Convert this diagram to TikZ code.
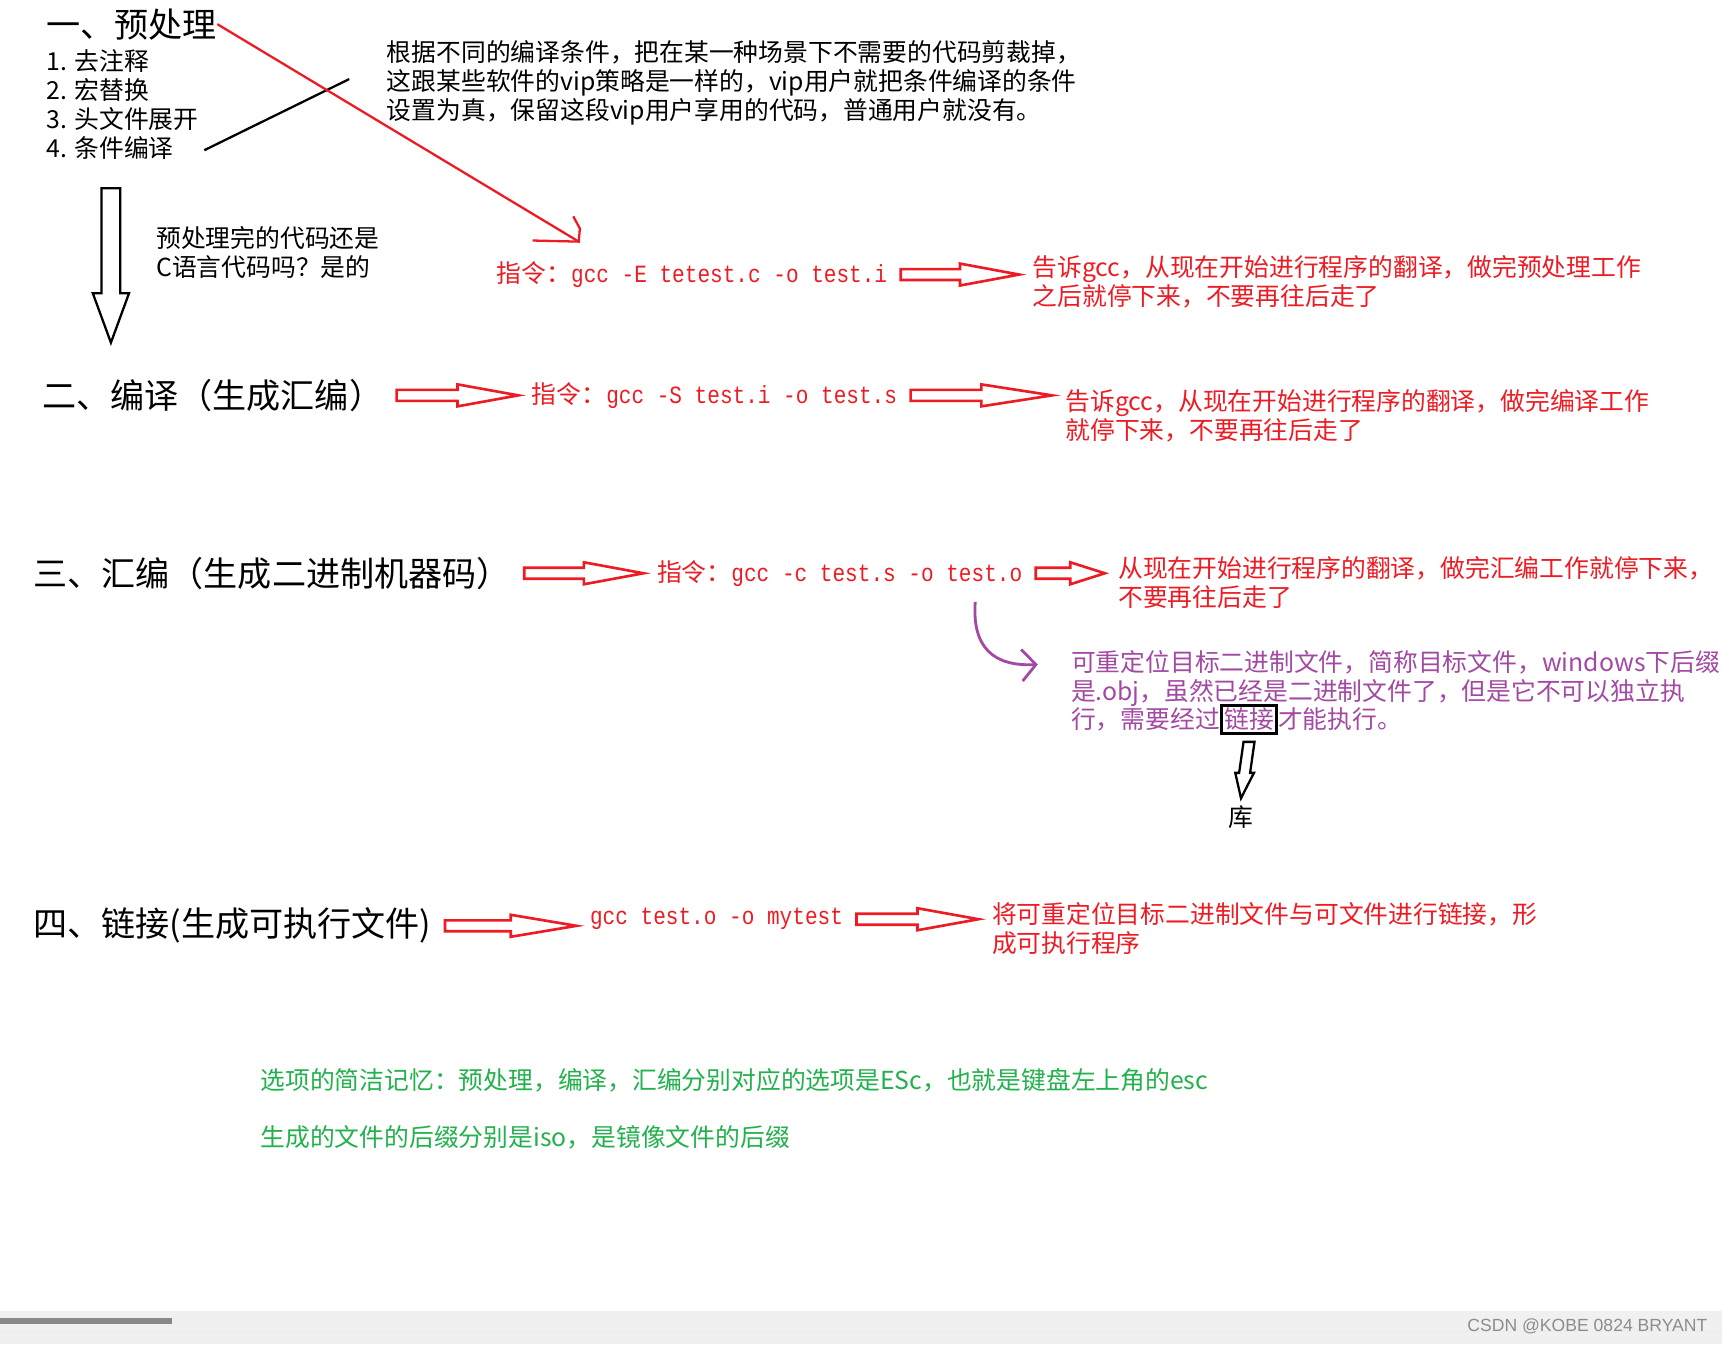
\documentclass[tikz,border=0pt]{standalone}
\usepackage{fontspec}
\setmainfont{Noto Sans CJK SC}
\newfontfamily\cmdfont[FakeStretch=0.85]{Liberation Mono}
\newfontfamily\markfont{Liberation Sans}
\usetikzlibrary{arrows.meta, positioning, calc}
\definecolor{paintred}{RGB}{237,28,36}
\definecolor{paintpurple}{RGB}{163,73,164}
\definecolor{paintgreen}{RGB}{34,177,76}
\definecolor{barcolor}{RGB}{240,240,240}
\definecolor{thumbcolor}{RGB}{136,136,136}
\definecolor{markcolor}{RGB}{140,140,140}

\begin{document}
\begin{tikzpicture}[
    x=0.02196cm, y=-0.02196cm,
    title/.style={font=\fontsize{19.4pt}{23pt}\selectfont, inner sep=0pt, anchor=west},
    body/.style={font=\fontsize{14.1pt}{16.5pt}\selectfont, inner sep=0pt, align=left},
    cmd/.style={body, text=paintred, anchor=west},
    note/.style={body, text=paintred, anchor=north west},
    redline/.style={draw=paintred, line width=1.3pt},
    fatright/.style={draw=paintred, line width=1.5pt, to path={
        ($(\tikztostart)+(12,5)$) -- ($(\tikztostart)!0.5!(\tikztotarget)+(0,5)$)
        -- ($(\tikztostart)!0.5!(\tikztotarget)+(0,10)$) -- ($(\tikztotarget)+(-12,0)$)
        -- ($(\tikztostart)!0.5!(\tikztotarget)+(0,-10)$) -- ($(\tikztostart)!0.5!(\tikztotarget)+(0,-5)$)
        -- ($(\tikztostart)+(12,-5)$) -- cycle}},
    fatdown/.style n args={3}{draw=black, line width=1.3pt, to path={
        ($(\tikztostart)+(-#1,0)$) -- ($(\tikztostart)!#3!(\tikztotarget)+(-#1,0)$)
        -- ($(\tikztostart)!#3!(\tikztotarget)+(-#2,0)$) -- (\tikztotarget)
        -- ($(\tikztostart)!#3!(\tikztotarget)+(#2,0)$) -- ($(\tikztostart)!#3!(\tikztotarget)+(#1,0)$)
        -- ($(\tikztostart)+(#1,0)$) -- cycle}}
]
    \fill[white] (0,0) rectangle (1568,1224);
    \useasboundingbox (0,0) rectangle (1568,1224);

    % Preprocessing
    \node[title] (t1) at (42,22) {一、预处理};
    \node[body, anchor=north west] (items) at (42,45) {1. 去注释\\2. 宏替换\\3. 头文件展开\\4. 条件编译};
    \node[body, anchor=north west] (para) at (352,37) {根据不同的编译条件，把在某一种场景下不需要的代码剪裁掉，\\这跟某些软件的vip策略是一样的，vip用户就把条件编译的条件\\设置为真，保留这段vip用户享用的代码，普通用户就没有。};
    \node[body, anchor=north west] (still) at (142,206) {预处理完的代码还是\\C语言代码吗？是的};
    \node[cmd] (c1) at (452,250) {指令：{\cmdfont gcc -E tetest.c -o test.i}};
    \node[note] (n1) at (940,232) {告诉gcc，从现在开始进行程序的翻译，做完预处理工作\\之后就停下来，不要再往后走了};

    \coordinate (cutend) at (318,72);
    \draw[line width=1.3pt] (items.south east) ++(5,-9) -- (cutend);
    \coordinate (hooktip) at (527,220);
    \draw[redline] (t1.east) -- (hooktip);
    \draw[redline] (hooktip) +(-42,-1) -- (hooktip) -- +(1,-12) -- +(-5,-23);
    \coordinate (bigtip) at (101,312);
    \draw[fatdown={8.5}{16.5}{0.68}] ([yshift=-16pt]items.south -| bigtip) to (bigtip);
    \draw[fatright] (c1.east) to (c1.east -| n1.west);

    % Compiling
    \node[title] (t2) at (38,360) {二、编译（生成汇编）};
    \node[cmd] (c2) at (484,360) {指令：{\cmdfont gcc -S test.i -o test.s}};
    \node[note] (n2) at (970,354) {告诉gcc，从现在开始进行程序的翻译，做完编译工作\\就停下来，不要再往后走了};
    \draw[fatright] (t2.east) to (t2.east -| c2.west);
    \draw[fatright] (c2.east) to (c2.east -| n2.west);

    % Assembling
    \node[title] (t3) at (30,522) {三、汇编（生成二进制机器码）};
    \node[cmd] (c3) at (598,522) {指令：{\cmdfont gcc -c test.s -o test.o}};
    \node[note] (n3) at (1018,506) {从现在开始进行程序的翻译，做完汇编工作就停下来，\\不要再往后走了};
    \draw[fatright] (t3.east) to (t3.east -| c3.west);
    \draw[fatright] (c3.east) to (c3.east -| n3.west);

    \node[body, text=paintpurple, anchor=north west] (objtext) at (975,592) {可重定位目标二进制文件，简称目标文件，windows下后缀\\是.obj，虽然已经是二进制文件了，但是它不可以独立执};
    \node[body, text=paintpurple, anchor=west] (objlast) at (975,655) {行，需要经过};
    \node[body, text=paintpurple, draw=black, line width=1.6pt, inner sep=1.5pt, right=0pt of objlast] (linkbox) {链接};
    \node[body, text=paintpurple, right=0pt of linkbox] (objend) {才能执行。};
    \node[body] (lib) at (1130,744) {库};
    \draw[fatdown={5}{8.5}{0.55}] ([yshift=-4pt]linkbox.south) to ([yshift=4pt]lib.north);
    \coordinate (bendtop) at (888,548);
    \draw[draw=paintpurple, line width=1.6pt, -{Straight Barb[length=8pt, width=18pt]}]
        (bendtop) .. controls (885,590) and (905,607) .. ($(objtext.north west)+(-30,13)$);

    % Linking
    \node[title] (t4) at (30,843) {四、链接(生成可执行文件)};
    \node[cmd] (c4) at (537,837) {\cmdfont gcc test.o -o mytest};
    \node[note] (n4) at (903,821) {将可重定位目标二进制文件与可文件进行链接，形\\成可执行程序};
    \draw[fatright] (t4.east) to (t4.east -| c4.west);
    \draw[fatright] (c4.east) to (c4.east -| n4.west);

    % Memo
    \node[body, text=paintgreen, anchor=west] (memo1) at (237,984) {选项的简洁记忆：预处理，编译，汇编分别对应的选项是ESc，也就是键盘左上角的esc};
    \node[body, text=paintgreen, anchor=west] (memo2) at (237,1036) {生成的文件的后缀分别是iso，是镜像文件的后缀};

    % Window bar
    \fill[barcolor] (0,1194) rectangle (1568,1224);
    \fill[thumbcolor] (0,1200) rectangle (157,1206);
    \draw[gray!15] (0,1212) -- (1568,1212);
    \node[font=\markfont\fontsize{10pt}{12pt}\selectfont, text=markcolor, inner sep=0pt, anchor=east] (mark) at (1555,1208) {CSDN @KOBE 0824 BRYANT};
\end{tikzpicture}
\end{document}
